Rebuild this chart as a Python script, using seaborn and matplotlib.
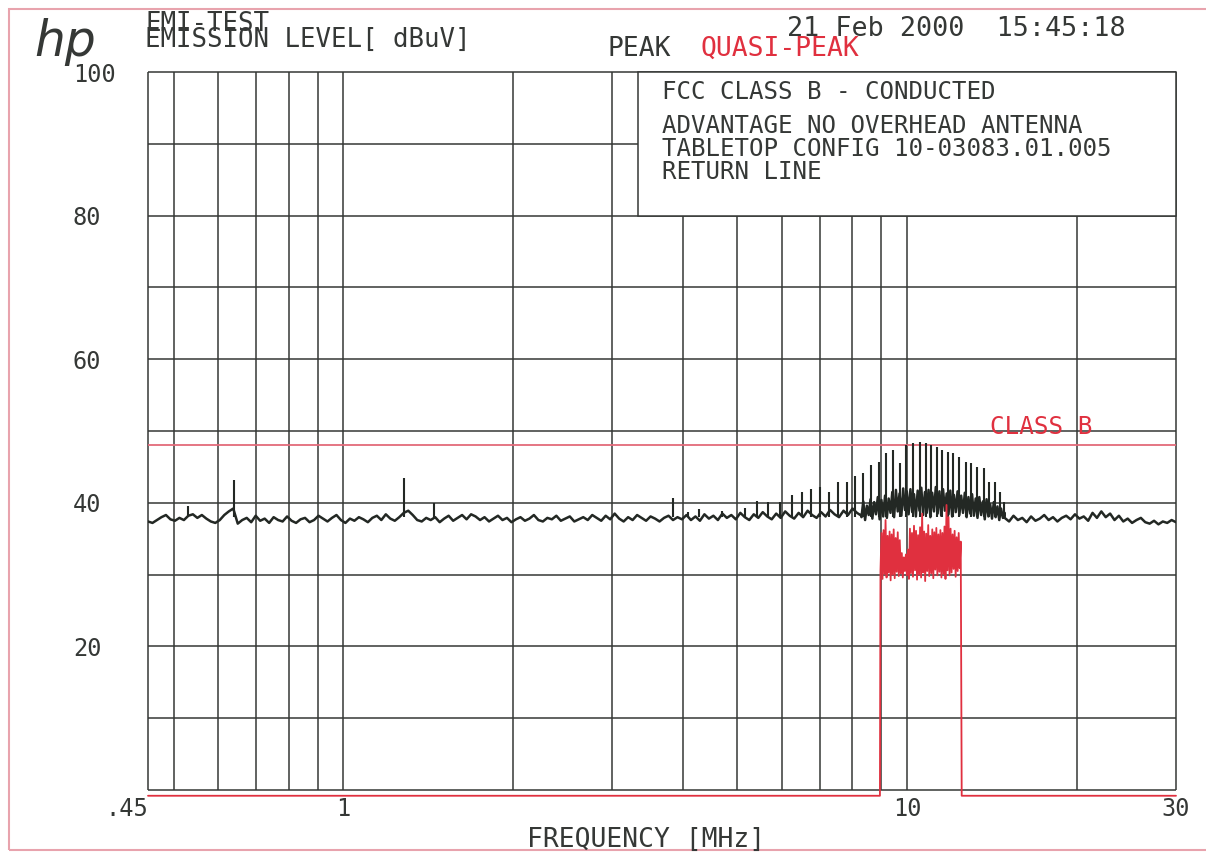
import numpy as np
import pandas as pd
import seaborn as sns
import matplotlib.pyplot as plt
from matplotlib.patches import Rectangle

# ---- values (MHz / dBuV) ----
# peak detector sweep, three segments of the log sweep
sweep_lo_mhz = (0.45, 8.3)
peak_lo = [37.4, 37.2, 37.6, 38.0, 38.3, 37.7, 37.5, 37.9, 37.6, 38.2,
           38.4, 37.9, 38.3, 37.8, 37.4, 37.2, 37.6, 38.3, 38.8, 39.2,
           37.1, 37.6, 37.9, 37.3, 38.2, 37.5, 37.8, 37.2, 38.0, 37.6,
           37.4, 38.1, 37.5, 37.2, 37.7, 37.9, 37.3, 37.6, 38.2, 37.8,
           37.4, 37.9, 38.3, 37.6, 37.2, 37.8, 37.5, 38.0, 37.7, 37.3,
           37.9, 38.2, 37.6, 38.4, 37.8, 37.5, 38.0, 38.6, 38.9, 38.3,
           37.6, 37.4, 37.9, 37.6, 38.0, 37.3, 37.8, 38.2, 37.5, 37.9,
           38.3, 37.7, 38.4, 38.1, 37.6, 38.0, 37.4, 37.8, 38.2, 37.6,
           37.9, 37.3, 37.7, 38.0, 37.5, 37.8, 38.3, 37.6, 37.4, 37.9,
           37.7, 38.2, 37.5, 37.8, 38.1, 37.4, 37.7, 38.0, 37.6, 38.3,
           37.9, 37.5, 38.2, 37.7, 38.5, 37.8, 37.4, 38.0, 37.6, 38.3,
           37.9, 37.5, 38.1, 37.8, 37.4, 37.9, 38.2, 37.6, 38.0, 37.7,
           38.3, 37.6, 38.1, 37.5, 38.4, 37.8, 38.2, 37.6, 38.5, 37.9,
           38.3, 37.7, 38.6, 38.0, 37.6, 38.4, 37.9, 38.7, 38.1, 37.7,
           38.5, 37.9, 38.8, 38.2, 37.8, 38.6, 38.0, 38.9, 38.3, 37.9,
           38.7, 38.1, 39.0, 38.4, 38.0, 38.9, 38.3, 39.2, 38.6, 38.2]
sweep_mid_mhz = (8.3, 14.9)
peak_mid = [38.0, 40.2, 37.6, 39.6, 38.3, 40.5, 37.8, 40.1, 38.4, 40.8,
            37.7, 40.4, 38.1, 41.0, 37.9, 40.6,
            38.6, 41.5, 38.0, 41.8, 38.8, 41.3, 38.2, 42.0, 39.0, 41.6,
            38.4, 41.9, 38.7, 41.2, 38.1, 41.7, 38.9, 42.1, 38.3, 41.5,
            38.6, 41.8, 38.0, 41.4, 38.8, 42.2, 38.5, 41.6, 38.2, 41.9,
            38.9, 41.3, 38.4, 41.7, 38.1, 41.1, 38.7, 41.6, 38.3, 41.0,
            38.6, 41.4, 38.0, 40.8, 38.5, 41.2, 38.2, 40.6,
            37.9, 40.8, 38.3, 40.2, 37.7, 40.5, 38.1, 39.8, 37.8, 40.1,
            38.0, 39.5, 37.6, 39.2, 37.9, 38.6]
sweep_hi_mhz = (14.9, 30.0)
peak_hi = [37.9, 37.4, 38.2, 37.6, 37.9, 37.3, 38.1, 37.5, 37.8, 38.3,
           37.6, 38.0, 37.4, 37.9, 38.2, 37.7, 38.4, 37.8, 38.1, 37.5,
           38.6, 37.9, 38.8, 38.0, 38.5, 37.6, 38.2, 37.4, 37.8, 37.2,
           37.6, 37.9, 37.3, 37.1, 37.5, 37.0, 37.4, 37.2, 37.6, 37.3]

# narrow spikes / clock harmonics on the peak trace
spike_mhz = [0.53, 0.64, 1.28, 1.45, 3.84,
             4.09, 4.28, 4.70, 5.16, 5.42, 5.66, 5.94, 6.24, 6.50, 6.75,
             7.01, 7.28, 7.55, 7.83, 8.09, 8.36, 8.62, 8.90, 9.18, 9.46,
             9.70, 9.96, 10.26, 10.56, 10.80, 11.02, 11.28, 11.52, 11.80,
             12.08, 12.38, 12.70, 13.00, 13.30, 13.68, 14.00, 14.30, 14.60,
             14.85]
spike_dbuv = [39.6, 43.2, 43.4, 40.0, 40.7,
              38.7, 39.1, 38.9, 39.3, 40.2, 40.1, 40.1, 41.1, 41.5, 41.9,
              42.2, 41.5, 42.9, 42.9, 43.7, 44.1, 45.2, 45.7, 46.9, 47.4,
              45.5, 48.0, 48.3, 48.5, 48.3, 48.0, 47.8, 47.4, 47.1,
              46.9, 46.4, 45.7, 45.5, 45.0, 44.8, 42.9, 42.9, 41.5,
              40.1]
spike_base = 38.0

# quasi-peak detector, measured only inside the band
qp_edges_mhz = (8.95, 12.5)
qp_band_mhz = (8.97, 12.45)
qp_dbuv = [30.5, 35.8, 29.4, 36.2, 30.1, 37.6, 29.6, 35.4, 30.3, 36.0,
           29.2, 35.6, 30.0, 36.3, 29.5, 35.1, 30.4, 35.9, 29.8, 34.8,
           30.2, 33.0, 29.6, 32.4, 30.5, 32.8, 29.9, 33.5,
           29.4, 36.4, 30.2, 35.8, 29.7, 36.8, 30.6, 36.1, 29.3, 35.5,
           30.0, 36.6, 29.6, 38.5, 30.3, 36.0, 29.1, 35.7, 30.5, 36.9,
           29.8, 35.4, 30.2, 36.3, 29.5, 35.9, 30.7, 36.5, 29.9, 35.6,
           30.4, 36.2, 29.6, 35.8, 30.1, 36.7, 29.4, 39.7, 30.6, 38.0,
           29.9, 36.4, 30.3, 35.6, 30.8, 36.1, 29.7, 35.2, 30.5, 35.8,
           30.9, 34.6]
qp_floor = -0.8

class_b_limit = 48
freq_min, freq_max = 0.45, 30
freq_grid = [0.45, 0.5, 0.6, 0.7, 0.8, 0.9, 1, 2, 3, 4, 5, 6, 7, 8, 9, 10, 20, 30]
level_grid = [0, 10, 20, 30, 40, 50, 60, 70, 80, 90, 100]
freq_ticks = [0.45, 1, 10, 30]
freq_ticklabels = ['.45', '1', '10', '30']
level_ticks = [20, 40, 60, 80, 100]
box_from_mhz = 3.33

# ---- tables ----
peak_df = pd.DataFrame({
    'freq': np.concatenate([np.geomspace(*sweep_lo_mhz, len(peak_lo)),
                            np.geomspace(*sweep_mid_mhz, len(peak_mid)),
                            np.geomspace(*sweep_hi_mhz, len(peak_hi))]),
    'level': peak_lo + peak_mid + peak_hi})
qp_df = pd.DataFrame({
    'freq': [freq_min, qp_edges_mhz[0]] + list(np.geomspace(*qp_band_mhz, len(qp_dbuv)))
            + [qp_edges_mhz[1], freq_max],
    'level': [qp_floor, qp_floor] + qp_dbuv + [qp_floor, qp_floor]})

W, H = 1206, 855
def px(x, y):
    return x / W, 1 - y / H

sns.set_style("white")
plt.rcParams['font.family'] = ['DejaVu Sans Mono', 'DejaVu Sans']

INK = '#353836'
TRACE = '#232824'
RED = '#e0303f'
PINK = '#e36a7a'

fig = plt.figure(figsize=(W / 100, H / 100), dpi=100)
# axes box: 0.45..30 MHz spans x 148..1176, -1..100 dBuV spans y 797..72
ax = fig.add_axes([148 / W, 1 - 797.2 / H, 1028 / W, (797.2 - 72) / H])
ax.set_xscale('log')
ax.set_xlim(freq_min, freq_max)
ax.set_ylim(-1, 100)
for s in ax.spines.values():
    s.set_visible(False)

# grid (also the frame)
ax.vlines(freq_grid, 0, 100, color=INK, lw=1.1, zorder=1, clip_on=False)
ax.hlines(level_grid, freq_min, freq_max, color=INK, lw=1.1, zorder=1, clip_on=False)

# title box in the upper right corner
ax.add_patch(Rectangle((box_from_mhz, 80), freq_max - box_from_mhz, 20, facecolor='white',
                       edgecolor=INK, lw=1.1, zorder=3, clip_on=False))

# class B limit
ax.hlines(class_b_limit, freq_min, freq_max, color=PINK, lw=1.3, zorder=2)

# traces
sns.lineplot(data=peak_df, x='freq', y='level', estimator=None, sort=False,
             color=TRACE, lw=1.8, ax=ax, zorder=4)
ax.vlines(spike_mhz, spike_base, spike_dbuv, color=TRACE, lw=1.5, zorder=4)
sns.lineplot(data=qp_df, x='freq', y='level', estimator=None, sort=False,
             color=RED, lw=1.3, ax=ax, zorder=5, clip_on=False)

ax.set_xlabel('')
ax.set_ylabel('')
ax.minorticks_off()
ax.set_xticks(freq_ticks)
ax.set_xticklabels(freq_ticklabels)
ax.set_yticks(level_ticks)
ax.set_yticklabels([str(v) for v in level_ticks])
ax.tick_params(axis='both', length=0, labelsize=17, colors=INK)
ax.tick_params(axis='x', pad=0)
ax.tick_params(axis='y', pad=54)
for lab in ax.get_yticklabels():
    lab.set_horizontalalignment('left')
ax.get_xticklabels()[0].set_horizontalalignment('right')

# header and annotations
fig.text(*px(34, 42), 'hp', family='DejaVu Sans', style='italic', fontsize=35,
         color=INK, ha='left', va='center')
fig.text(*px(145, 24), 'EMI-TEST', fontsize=18.5, color=INK, va='center')
fig.text(*px(145, 40), 'EMISSION LEVEL[ dBuV]', fontsize=18.5, color=INK, va='center')
fig.text(*px(608, 49), 'PEAK', fontsize=19, color=INK, va='center')
fig.text(*px(700, 49), 'QUASI-PEAK', fontsize=19, color=RED, va='center')
fig.text(*px(787, 29), '21 Feb 2000  15:45:18', fontsize=19.3, color=INK, va='center')
box_lines = [(92, 'FCC CLASS B - CONDUCTED'),
             (126, 'ADVANTAGE NO OVERHEAD ANTENNA'),
             (149, 'TABLETOP CONFIG 10-03083.01.005'),
             (172, 'RETURN LINE')]
for y, t in box_lines:
    fig.text(*px(662, y), t, fontsize=17.4, color=INK, va='center', zorder=6)
fig.text(*px(990, 427), 'CLASS B', fontsize=17.5, color=RED, va='center')
fig.text(*px(646, 840), 'FREQUENCY [MHz]', fontsize=19, color=INK, ha='center', va='center')

# pink scan border
fig.add_artist(Rectangle(px(9, 850), 1220 / W, 841 / H, fill=False,
                         edgecolor='#e8a3ad', lw=1.5, transform=fig.transFigure))

fig.savefig('out.png', dpi=100)
